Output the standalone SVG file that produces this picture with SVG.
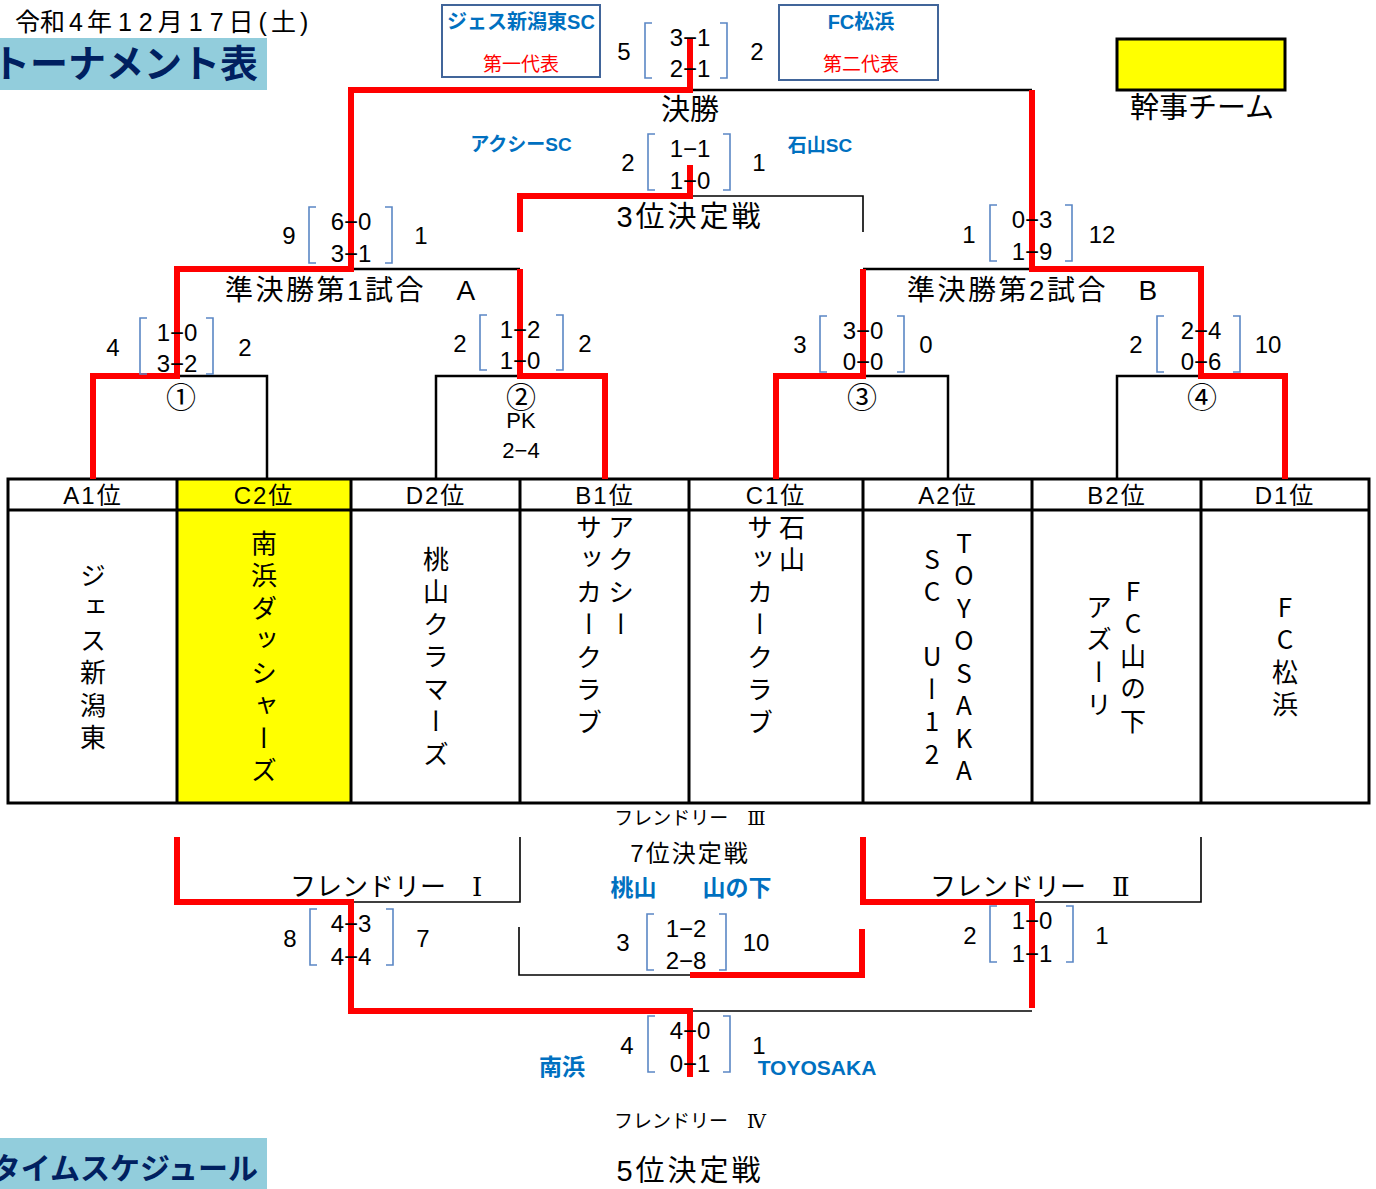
<svg xmlns="http://www.w3.org/2000/svg" width="1376" height="1189" viewBox="0 0 1376 1189">
<style>
text{font-family:"Liberation Sans","Noto Sans CJK JP",sans-serif;fill:#000}
.c{text-anchor:middle}
.e{text-anchor:end}
.s{font-size:25px}
.sc{font-size:24px;text-anchor:middle}
.bl{fill:#0070C0;font-weight:bold}
.rd{fill:#FF0000}
.nv{fill:#002060;font-weight:bold}
.rn{font-family:"Noto Sans CJK JP",sans-serif}
.rm{font-family:"DejaVu Serif","Noto Sans CJK JP",serif}
.vt{font-family:"Noto Sans CJK JP",sans-serif;font-size:26px;writing-mode:vertical-rl;text-orientation:upright;letter-spacing:6.5px}
.hd{font-size:24px;text-anchor:middle;letter-spacing:2px}
.red{fill:none;stroke:#FF0000;stroke-width:6}
.blk{fill:none;stroke:#000;stroke-width:2.5}
.thin{fill:none;stroke:#000;stroke-width:1.6}
.brk{fill:none;stroke:#5B87C5;stroke-width:1.6}
.tbl{fill:none;stroke:#000;stroke-width:3}
.box{fill:#fff;stroke:#41659A;stroke-width:2}
</style>
<rect width="1376" height="1189" fill="#fff"/>

<g id="header">
<text x="15" y="31" class="s">令和<tspan dx="4">4</tspan><tspan dx="4">年</tspan><tspan dx="6">1</tspan><tspan dx="7">2</tspan><tspan dx="5">月</tspan><tspan dx="6">1</tspan><tspan dx="7">7</tspan><tspan dx="5">日</tspan><tspan dx="5">(</tspan><tspan dx="4">土</tspan><tspan dx="4">)</tspan></text>
<rect x="0" y="38" width="267" height="52" fill="#92CDDC"/>
<text x="258" y="77" class="e nv" style="font-size:38px">トーナメント表</text>
<rect x="0" y="1138" width="267" height="51" fill="#92CDDC"/>
<text x="258" y="1179" class="e nv" style="font-size:30px">タイムスケジュール</text>
</g>

<g id="legend">
<rect x="1117" y="39" width="168" height="51" fill="#FFFF00" stroke="#000" stroke-width="3"/>
<text x="1202" y="118" class="c" style="font-size:29px">幹事チーム</text>
</g>

<g id="finalists">
<rect x="442" y="5" width="158" height="72" class="box"/>
<text x="521" y="29" class="c bl" style="font-size:20px">ジェス新潟東SC</text>
<text x="521" y="71" class="c rd" style="font-size:19px">第一代表</text>
<rect x="779" y="5" width="159" height="75" class="box"/>
<text x="861" y="29" class="c bl" style="font-size:20px">FC松浜</text>
<text x="861" y="71" class="c rd" style="font-size:19px">第二代表</text>
</g>

<g id="table">
<rect x="177" y="479" width="174" height="324" fill="#FFFF00"/>
<rect x="8" y="479" width="1361" height="324" class="tbl"/>
<path d="M8,510H1369M177,479V803M351,479V803M520,479V803M689,479V803M863,479V803M1032,479V803M1201,479V803" class="tbl"/>
</g>

<g id="team-A1"><text x="93" y="504" class="hd">A1位</text><text x="93" y="562" class="vt">ジェス新潟東</text></g>
<g id="team-C2"><text x="264" y="504" class="hd">C2位</text><text x="264" y="530" class="vt">南浜ダッシャーズ</text></g>
<g id="team-D2"><text x="436" y="504" class="hd">D2位</text><text x="436" y="546" class="vt">桃山クラマーズ</text></g>
<g id="team-B1"><text x="605" y="504" class="hd">B1位</text><text x="621" y="514" class="vt">アクシー</text><text x="589" y="514" class="vt">サッカークラブ</text></g>
<g id="team-C1"><text x="776" y="504" class="hd">C1位</text><text x="792" y="514" class="vt">石山</text><text x="760" y="514" class="vt">サッカークラブ</text></g>
<g id="team-A2"><text x="948" y="504" class="hd">A2位</text><text x="964" y="530" class="vt">TOYOSAKA</text><text x="932" y="546" class="vt">SC　Uー12</text></g>
<g id="team-B2"><text x="1117" y="504" class="hd">B2位</text><text x="1133" y="578" class="vt">FC山の下</text><text x="1099" y="594" class="vt">アズーリ</text></g>
<g id="team-D1"><text x="1285" y="504" class="hd">D1位</text><text x="1285" y="594" class="vt">FC松浜</text></g>

<g id="connectors">
<path class="blk" d="M177,376H267V479M436,479V376H520M863,376H948V479M1117,479V376H1201M351,269H520M863,269H1032M690,90H1032"/>
<path class="thin" d="M690,196H863V232M351,902H520V837M1032,902H1201V837M519,927V975H690M690,1011H1032"/>
<path class="red" d="M93,479V376H177V269H351V90H690V38"/>
<path class="red" d="M605,479V376H520V269"/>
<path class="red" d="M520,232V196H690V165"/>
<path class="red" d="M776,479V376H863V269"/>
<path class="red" d="M1285,479V376H1201V269H1032V90"/>
<path class="red" d="M177,837V902H351V1011H690V1077"/>
<path class="red" d="M863,837V902H1032V1008"/>
<path class="red" d="M690,975H862V929"/>
</g>

<g id="labels">
<text x="690" y="120" class="c" style="font-size:29px">決勝</text>
<text x="521" y="151" class="c bl" style="font-size:19px">アクシーSC</text>
<text x="820" y="152" class="c bl" style="font-size:19px">石山SC</text>
<text x="690" y="227" class="c" style="font-size:29px;letter-spacing:3px">3位決定戦</text>
<text x="225" y="300" style="font-size:28px;letter-spacing:2.5px">準決勝第1試合　A</text>
<text x="907" y="300" style="font-size:28px;letter-spacing:2.5px">準決勝第2試合　B</text>
<text x="181" y="408" class="c rn" style="font-size:30px">①</text>
<text x="521" y="408" class="c rn" style="font-size:30px">②</text>
<text x="521" y="428" class="c" style="font-size:22px">PK</text>
<text x="521" y="458" class="c" style="font-size:22px">2−4</text>
<text x="862" y="408" class="c rn" style="font-size:30px">③</text>
<text x="1202" y="408" class="c rn" style="font-size:30px">④</text>
<text x="690" y="825" class="c" style="font-size:19px">フレンドリー　<tspan class="rm">Ⅲ</tspan></text>
<text x="690" y="862" class="c" style="font-size:24px;letter-spacing:2px">7位決定戦</text>
<text x="691" y="896" class="c bl" style="font-size:23px">桃山　　山の下</text>
<text x="290" y="896" style="font-size:26px">フレンドリー　<tspan class="rm">Ⅰ</tspan></text>
<text x="930" y="896" style="font-size:26px">フレンドリー　<tspan class="rm">Ⅱ</tspan></text>
<text x="562" y="1075" class="c bl" style="font-size:23px">南浜</text>
<text x="817" y="1075" class="c bl" style="font-size:21px">TOYOSAKA</text>
<text x="690" y="1128" class="c" style="font-size:19px">フレンドリー　<tspan class="rm">Ⅳ</tspan></text>
<text x="690" y="1181" class="c" style="font-size:29px;letter-spacing:3px">5位決定戦</text>
</g>

<g id="score-final">
<path class="brk" d="M652,23H645V78H652M720,23H727V78H720"/>
<text x="690" y="46" class="sc">3−1</text><text x="690" y="77" class="sc">2−1</text>
<text x="624" y="60" class="sc">5</text><text x="757" y="60" class="sc">2</text>
</g>
<g id="score-3rd">
<path class="brk" d="M655,134H648V190H655M723,134H730V190H723"/>
<text x="690" y="157" class="sc">1−1</text><text x="690" y="189" class="sc">1−0</text>
<text x="628" y="171" class="sc">2</text><text x="759" y="171" class="sc">1</text>
</g>
<g id="score-sfA">
<path class="brk" d="M316,207H309V263H316M385,207H392V263H385"/>
<text x="351" y="230" class="sc">6−0</text><text x="351" y="262" class="sc">3−1</text>
<text x="289" y="244" class="sc">9</text><text x="421" y="244" class="sc">1</text>
</g>
<g id="score-sfB">
<path class="brk" d="M997,205H990V261H997M1065,205H1072V261H1065"/>
<text x="1032" y="228" class="sc">0−3</text><text x="1032" y="260" class="sc">1−9</text>
<text x="969" y="243" class="sc">1</text><text x="1102" y="243" class="sc">12</text>
</g>
<g id="score-m1">
<path class="brk" d="M147,318H140V374H147M206,318H213V374H206"/>
<text x="177" y="341" class="sc">1−0</text><text x="177" y="372" class="sc">3−2</text>
<text x="113" y="356" class="sc">4</text><text x="245" y="356" class="sc">2</text>
</g>
<g id="score-m2">
<path class="brk" d="M487,315H480V370H487M556,315H563V370H556"/>
<text x="520" y="338" class="sc">1−2</text><text x="520" y="369" class="sc">1−0</text>
<text x="460" y="352" class="sc">2</text><text x="585" y="352" class="sc">2</text>
</g>
<g id="score-m3">
<path class="brk" d="M827,316H820V372H827M897,316H904V372H897"/>
<text x="863" y="339" class="sc">3−0</text><text x="863" y="370" class="sc">0−0</text>
<text x="800" y="353" class="sc">3</text><text x="926" y="353" class="sc">0</text>
</g>
<g id="score-m4">
<path class="brk" d="M1164,316H1157V372H1164M1233,316H1240V372H1233"/>
<text x="1201" y="339" class="sc">2−4</text><text x="1201" y="370" class="sc">0−6</text>
<text x="1136" y="353" class="sc">2</text><text x="1268" y="353" class="sc">10</text>
</g>
<g id="score-f1">
<path class="brk" d="M317,909H310V965H317M386,909H393V965H386"/>
<text x="351" y="932" class="sc">4−3</text><text x="351" y="965" class="sc">4−4</text>
<text x="290" y="947" class="sc">8</text><text x="423" y="947" class="sc">7</text>
</g>
<g id="score-f2">
<path class="brk" d="M997,906H990V962H997M1066,906H1073V962H1066"/>
<text x="1032" y="929" class="sc">1−0</text><text x="1032" y="962" class="sc">1−1</text>
<text x="970" y="944" class="sc">2</text><text x="1102" y="944" class="sc">1</text>
</g>
<g id="score-f3">
<path class="brk" d="M654,914H647V970H654M719,914H726V970H719"/>
<text x="686" y="937" class="sc">1−2</text><text x="686" y="969" class="sc">2−8</text>
<text x="623" y="951" class="sc">3</text><text x="756" y="951" class="sc">10</text>
</g>
<g id="score-f4">
<path class="brk" d="M655,1016H648V1072H655M723,1016H730V1072H723"/>
<text x="690" y="1039" class="sc">4−0</text><text x="690" y="1072" class="sc">0−1</text>
<text x="627" y="1054" class="sc">4</text><text x="759" y="1054" class="sc">1</text>
</g>
</svg>
